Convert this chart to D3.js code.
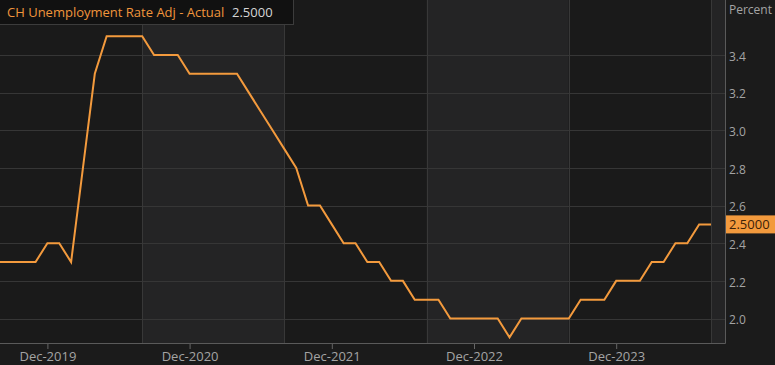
<!DOCTYPE html>
<html>
<head>
<meta charset="utf-8">
<script src="https://cdn.jsdelivr.net/npm/d3@7"></script>
<style>
  body { margin: 0; background: #1b1b1b; }
  svg { display: block; font-family: "Open Sans", sans-serif; }
</style>
</head>
<body>
<script>
var width = 775, height = 365;

// monthly values, Aug-2019 .. Aug-2024
var startMonth = new Date(2019, 7, 1);
var values = [
  2.3, 2.3, 2.3, 2.3, 2.4,
  2.4, 2.3, 2.8, 3.3, 3.5, 3.5, 3.5, 3.5, 3.4, 3.4, 3.4, 3.3,
  3.3, 3.3, 3.3, 3.3, 3.2, 3.1, 3.0, 2.9, 2.8, 2.6, 2.6, 2.5,
  2.4, 2.4, 2.3, 2.3, 2.2, 2.2, 2.1, 2.1, 2.1, 2.0, 2.0, 2.0,
  2.0, 2.0, 1.9, 2.0, 2.0, 2.0, 2.0, 2.0, 2.1, 2.1, 2.1, 2.2,
  2.2, 2.2, 2.3, 2.3, 2.4, 2.4, 2.5, 2.5
];
var yTicks = [2.0, 2.2, 2.4, 2.6, 2.8, 3.0, 3.2, 3.4];
var xTickMonths = [4, 16, 28, 40, 52];           // Dec of each year
var xTickLabels = ["Dec-2019", "Dec-2020", "Dec-2021", "Dec-2022", "Dec-2023"];
var bandEdges = [0, 12, 24, 36, 48, 60, 61.2];   // Aug-to-Aug bands
var seriesName = "CH Unemployment Rate Adj - Actual";
var lastLabel = "2.5000";

var plotRight = 725, plotBottom = 343;

var svg = d3.select("body").append("svg")
    .attr("width", width)
    .attr("height", height);

var x = d3.scaleLinear().domain([0, 60]).range([0, 711]);
var y = d3.scaleLinear().domain([2.0, 3.4]).range([318.5, 55]);

// alternating yearly bands
var bands = d3.pairs(bandEdges);
svg.append("g").selectAll("rect")
    .data(bands)
    .enter().append("rect")
    .attr("x", function(d) { return x(d[0]); })
    .attr("y", 0)
    .attr("width", function(d) { return Math.min(x(d[1]), plotRight) - x(d[0]); })
    .attr("height", plotBottom)
    .attr("fill", function(d, i) { return i % 2 ? "#242425" : "#1a1a1a"; });

// horizontal grid
svg.append("g").selectAll("line")
    .data(yTicks)
    .enter().append("line")
    .attr("x1", 0).attr("x2", plotRight)
    .attr("y1", function(d) { return Math.round(y(d)) + 0.5; })
    .attr("y2", function(d) { return Math.round(y(d)) + 0.5; })
    .attr("stroke", "#363636");

// vertical band lines
svg.append("g").selectAll("line")
    .data(bandEdges.slice(1, 6))
    .enter().append("line")
    .attr("x1", function(d) { return Math.round(x(d)) + 0.5; })
    .attr("x2", function(d) { return Math.round(x(d)) + 0.5; })
    .attr("y1", 0).attr("y2", plotBottom)
    .attr("stroke", "#383838");

// plot frame (right + bottom)
svg.append("path")
    .attr("d", "M" + (plotRight + 0.5) + ",0V" + (plotBottom + 0.5) + "H0")
    .attr("fill", "none")
    .attr("stroke", "#5a5a5a");

// x axis
var xAxis = d3.axisBottom(x)
    .tickValues(xTickMonths)
    .tickFormat(function(d, i) { return xTickLabels[i]; })
    .tickSize(5)
    .tickPadding(3);
var gx = svg.append("g")
    .attr("transform", "translate(0," + (plotBottom + 1) + ")")
    .call(xAxis);
gx.select(".domain").remove();
gx.selectAll(".tick line").attr("stroke", "#666");
gx.selectAll(".tick text")
    .attr("fill", "#a4a4a4")
    .style("font-size", "13px")
    .style("font-family", "'Open Sans', sans-serif");

// y axis on right
var yAxis = d3.axisRight(y)
    .tickValues(yTicks)
    .tickFormat(d3.format(".1f"))
    .tickSize(0)
    .tickPadding(4);
var gy = svg.append("g")
    .attr("transform", "translate(" + plotRight + ",1.5)")
    .call(yAxis);
gy.select(".domain").remove();
gy.selectAll(".tick text")
    .attr("fill", "#a4a4a4")
    .style("font-size", "12px")
    .style("font-family", "'Open Sans', sans-serif");

svg.append("text")
    .attr("x", 729).attr("y", 14)
    .attr("fill", "#a4a4a4")
    .style("font-size", "12px")
    .text("Percent");

// series line
var line = d3.line()
    .x(function(d, i) { return x(i); })
    .y(function(d) { return y(d); });

svg.append("path")
    .datum(values)
    .attr("d", line)
    .attr("fill", "none")
    .attr("stroke", "#f39a3d")
    .attr("stroke-width", 2)
    .attr("stroke-linejoin", "miter");

// last value badge
var lastY = y(values[values.length - 1]);
svg.append("rect")
    .attr("x", plotRight + 1).attr("y", lastY - 9)
    .attr("width", width - plotRight - 1).attr("height", 18)
    .attr("fill", "#f39a3d");
svg.append("text")
    .attr("x", 729).attr("y", lastY)
    .attr("dy", "0.36em")
    .attr("fill", "#3b2108")
    .style("font-size", "13px")
    .text(lastLabel);

// legend box
var legend = svg.append("g");
legend.append("rect")
    .attr("x", -1).attr("y", -1)
    .attr("width", 294.5).attr("height", 25.5)
    .attr("fill", "#111111")
    .attr("stroke", "#3c3c3c");
var nameText = legend.append("text")
    .attr("x", 7).attr("y", 17)
    .attr("fill", "#f0953c")
    .style("font-size", "13px")
    .text(seriesName);
var nameEnd = 7 + nameText.node().getComputedTextLength();
legend.append("text")
    .attr("x", Math.max(nameEnd + 6, 232)).attr("y", 17)
    .attr("fill", "#d6d6d6")
    .style("font-size", "13px")
    .text(lastLabel);
</script>
</body>
</html>
